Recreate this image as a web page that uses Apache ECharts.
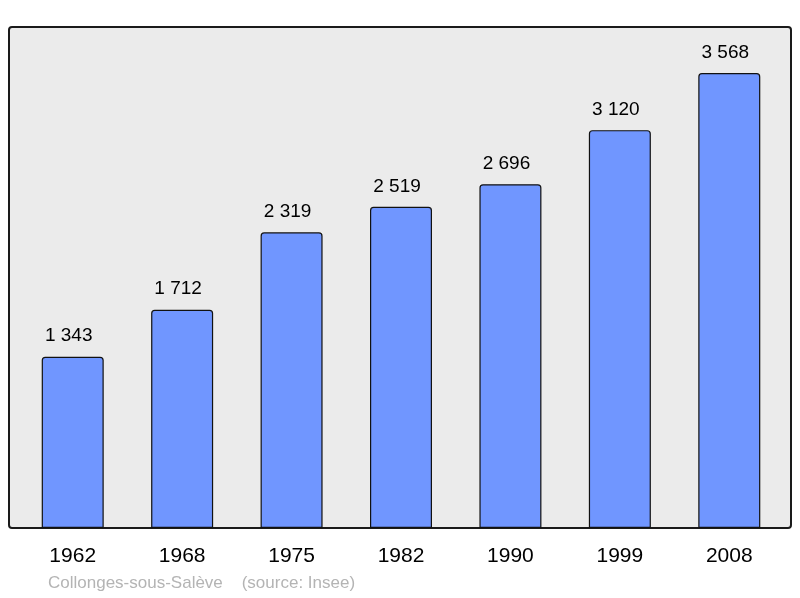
<!DOCTYPE html>
<html>
<head>
<meta charset="utf-8">
<script src="https://cdn.jsdelivr.net/npm/echarts@6/dist/echarts.min.js"></script>
<style>
  html, body { margin: 0; padding: 0; background: #fff; }
  #chart { width: 800px; height: 598px; }
</style>
</head>
<body>
<div id="chart"></div>
<script>
// population figures
var years = ["1962", "1968", "1975", "1982", "1990", "1999", "2008"];
var population = [1343, 1712, 2319, 2519, 2696, 3120, 3568];
var footer = "Collonges-sous-Salève    (source: Insee)";

function fmt(v) {
  return String(v).replace(/\B(?=(\d{3})+(?!\d))/g, " ");
}

var chart = echarts.init(document.getElementById("chart"));
chart.setOption({
  animation: false,
  textStyle: { fontFamily: "Liberation Sans, Arial, sans-serif" },
  graphic: [
    {
      type: "rect",
      z: -10,
      shape: { x: 9, y: 27, width: 782, height: 501, r: 3 },
      style: { fill: "#ebebeb", stroke: "#1a1a1a", lineWidth: 2 }
    },
    {
      type: "text",
      left: 48,
      top: 575,
      style: { text: footer, fill: "#b4b4b4", font: "17px Liberation Sans, Arial, sans-serif" }
    }
  ],
  grid: { left: 18, right: 16, top: 27, bottom: 70 },
  xAxis: {
    type: "category",
    data: years,
    axisLine: { show: false },
    axisTick: { show: false },
    axisLabel: { color: "#000", fontSize: 21, margin: 18 }
  },
  yAxis: {
    type: "value",
    min: 0,
    max: 3929,
    show: false,
    splitLine: { show: false }
  },
  series: [{
    type: "bar",
    data: population,
    barWidth: 62,
    itemStyle: {
      color: "#7096ff",
      borderColor: "#111",
      borderWidth: 1.2,
      borderRadius: [3, 3, 0, 0]
    },
    label: {
      show: true,
      position: "top",
      distance: 11,
      offset: [-4, 0],
      color: "#000",
      fontSize: 19,
      formatter: function (p) { return fmt(p.value); }
    }
  }]
});
</script>
</body>
</html>
